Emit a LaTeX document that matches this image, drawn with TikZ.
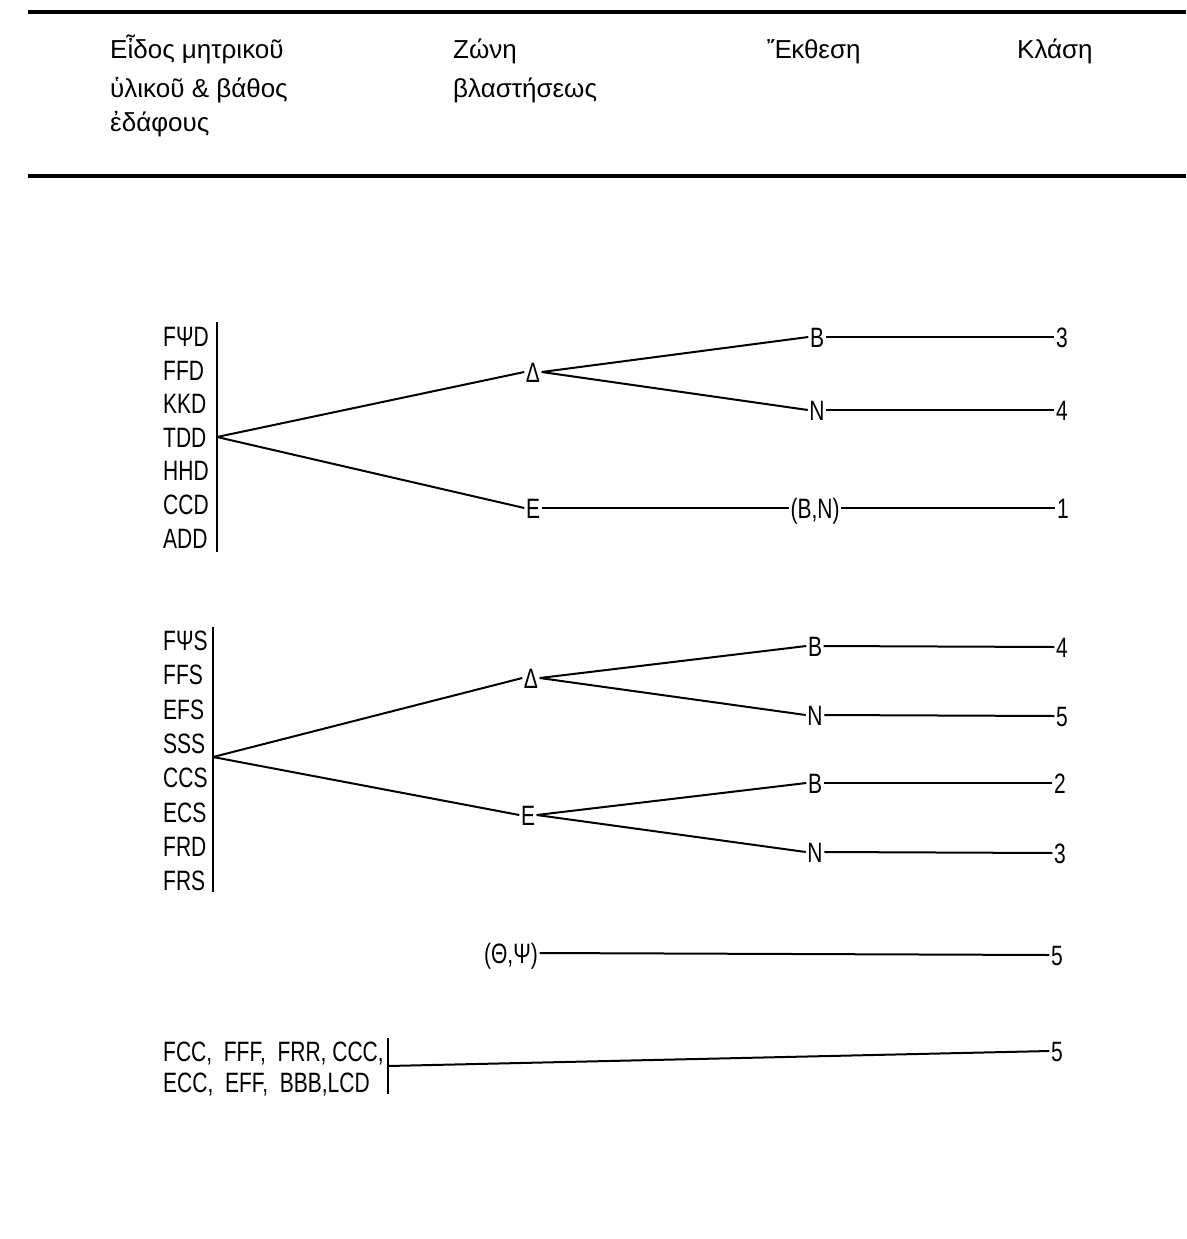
\documentclass[tikz,border=0pt]{standalone}
\usepackage{fontspec}
\setmainfont{Liberation Sans}
\newfontfamily\codefont{Liberation Sans}[FakeStretch=0.75]
\begin{document}
\begin{tikzpicture}[x=1pt,y=-1pt,
  hdr/.style={font=\fontsize{26}{30}\selectfont, anchor=base west, inner sep=0pt},
  lst/.style={font=\codefont\fontsize{28}{32}\selectfont, anchor=west, inner sep=0pt, text height=20pt, text depth=0pt},
  lbl/.style={font=\codefont\fontsize{28}{32}\selectfont, inner sep=1.5pt, text height=20pt, text depth=0pt},
  conn/.style={line width=2pt},
  barline/.style={line width=2.8pt},
  rulel/.style={line width=3.5pt}]
\useasboundingbox (0,0) rectangle (1186,1239);
% rules
\draw[rulel] (28,12) -- (1186,12);
\draw[rulel] (28,176) -- (1186,176);
% header
\node[hdr] (h1a) at (110,59) {Εἶδος μητρικοῦ};
\node[hdr] (h1b) at (110,97) {ὑλικοῦ \& βάθος};
\node[hdr] (h1c) at (110,131) {ἐδάφους};
\node[hdr] (h2a) at (453,59) {Ζώνη};
\node[hdr] (h2b) at (453,97) {βλαστήσεως};
\node[hdr] (h3) at (767,59) {Ἔκθεση};
\node[hdr] (h4) at (1017,59) {Κλάση};
% group 1
\node[lst] (g1r1) at (163,336) {FΨD};
\node[lst] (g1r2) at (163,370) {FFD};
\node[lst] (g1r3) at (163,403) {KKD};
\node[lst] (g1r4) at (163,437) {TDD};
\node[lst] (g1r5) at (163,470) {HHD};
\node[lst] (g1r6) at (163,504) {CCD};
\node[lst] (g1r7) at (163,538) {ADD};
\coordinate (b1t) at (217,322);
\coordinate (b1b) at (217,552);
\coordinate (br1) at (217,437);
\draw[barline] (b1t) -- (b1b);
\node[lbl] (D1) at (533,372) {Δ};
\node[lbl] (E1) at (533,508) {E};
\node[lbl] (B1) at (817,337) {B};
\node[lbl] (N1) at (817,410) {N};
\node[lbl] (BN) at (815,508) {(B,N)};
\node[lbl] (c3a) at (1062,337) {3};
\node[lbl] (c4a) at (1062,410) {4};
\node[lbl] (c1) at (1063,508) {1};
\draw[conn] (br1) -- (D1.west);
\draw[conn] (br1) -- (E1.west);
\draw[conn] (D1.east) -- (B1.west);
\draw[conn] (D1.east) -- (N1.west);
\draw[conn] (B1.east) -- (c3a.west);
\draw[conn] (N1.east) -- (c4a.west);
\draw[conn] (E1.east) -- (BN.west);
\draw[conn] (BN.east) -- (c1.west);
% group 2
\node[lst] (g2r1) at (163,640) {FΨS};
\node[lst] (g2r2) at (163,674) {FFS};
\node[lst] (g2r3) at (163,709) {EFS};
\node[lst] (g2r4) at (163,743) {SSS};
\node[lst] (g2r5) at (163,777) {CCS};
\node[lst] (g2r6) at (163,812) {ECS};
\node[lst] (g2r7) at (163,846) {FRD};
\node[lst] (g2r8) at (163,880) {FRS};
\coordinate (b2t) at (213,627);
\coordinate (b2b) at (213,892);
\coordinate (br2) at (213,757);
\draw[barline] (b2t) -- (b2b);
\node[lbl] (D2) at (531,678) {Δ};
\node[lbl] (E2) at (528,815) {E};
\node[lbl] (B2) at (815,646) {B};
\node[lbl] (N2) at (815,715) {N};
\node[lbl] (B3) at (815,783) {B};
\node[lbl] (N3) at (815,852) {N};
\node[lbl] (c4b) at (1062,647) {4};
\node[lbl] (c5b) at (1062,716) {5};
\node[lbl] (c2) at (1060,783) {2};
\node[lbl] (c3b) at (1060,853) {3};
\draw[conn] (br2) -- (D2.west);
\draw[conn] (br2) -- (E2.west);
\draw[conn] (D2.east) -- (B2.west);
\draw[conn] (D2.east) -- (N2.west);
\draw[conn] (E2.east) -- (B3.west);
\draw[conn] (E2.east) -- (N3.west);
\draw[conn] (B2.east) -- (c4b.west);
\draw[conn] (N2.east) -- (c5b.west);
\draw[conn] (B3.east) -- (c2.west);
\draw[conn] (N3.east) -- (c3b.west);
% theta psi
\node[lbl] (TP) at (511,953) {(Θ,Ψ)};
\node[lbl] (c5c) at (1057,955) {5};
\draw[conn] (TP.east) -- (c5c.west);
% bottom group
\node[lst] (g3r1) at (163,1051) {FCC,\ \ FFF,\ \ FRR, CCC,};
\node[lst] (g3r2) at (163,1082) {ECC,\ \ EFF,\ \ BBB,LCD};
\coordinate (b3t) at (388,1038);
\coordinate (b3b) at (388,1094);
\coordinate (br3) at (388,1066);
\draw[barline] (b3t) -- (b3b);
\node[lbl] (c5d) at (1057,1051) {5};
\draw[conn] (br3) -- (c5d.west);
\end{tikzpicture}
\end{document}
